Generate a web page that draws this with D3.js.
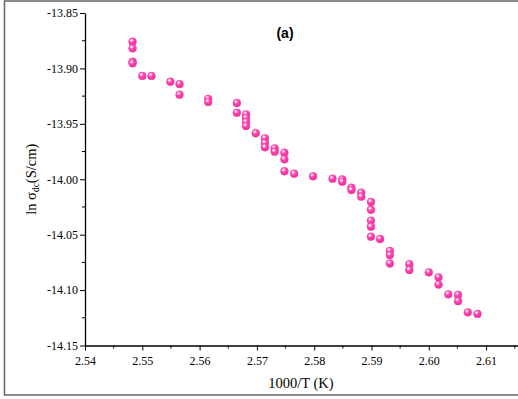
<!DOCTYPE html>
<html>
<head>
<meta charset="utf-8">
<script src="https://cdn.jsdelivr.net/npm/d3@7"></script>
<style>
  html, body { margin: 0; padding: 0; background: #fff; }
  svg { display: block; }
  .serif { font-family: "Times New Roman", "Liberation Serif", "DejaVu Serif", serif; }
</style>
</head>
<body>
<div id="chart"></div>
<script>
// Reciprocal temperature 1000/T (K^-1 scaled)
const invT = [
  2.5483, 2.5483, 2.5483, 2.5483,
  2.5500, 2.5516,
  2.5549, 2.5565, 2.5565,
  2.5615, 2.5615,
  2.5665, 2.5665,
  2.5681, 2.5681, 2.5681, 2.5681,
  2.5698,
  2.5714, 2.5714, 2.5714,
  2.5731, 2.5731,
  2.5748, 2.5748, 2.5748,
  2.5765, 2.5798, 2.5832,
  2.5849, 2.5849,
  2.5865, 2.5865,
  2.5882, 2.5882,
  2.5899, 2.5899, 2.5899, 2.5899, 2.5899,
  2.5915,
  2.5932, 2.5932, 2.5932,
  2.5966, 2.5966,
  2.6000,
  2.6017, 2.6017,
  2.6034,
  2.6051, 2.6051,
  2.6068, 2.6085
];
// ln of dc conductivity (S/cm)
const lnSigma = [
  -13.8759, -13.8819, -13.8939, -13.8954,
  -13.9068, -13.9068,
  -13.9120, -13.9141, -13.9237,
  -13.9276, -13.9303,
  -13.9312, -13.9400,
  -13.9414, -13.9447, -13.9484, -13.9520,
  -13.9585,
  -13.9631, -13.9673, -13.9712,
  -13.9721, -13.9751,
  -13.9760, -13.9820, -13.9928,
  -13.9950, -13.9973, -13.9995,
  -14.0001, -14.0022,
  -14.0076, -14.0097,
  -14.0121, -14.0157,
  -14.0205, -14.0275, -14.0374, -14.0428, -14.0518,
  -14.0539,
  -14.0647, -14.0684, -14.0760,
  -14.0767, -14.0819,
  -14.0840,
  -14.0885, -14.0950,
  -14.1038,
  -14.1043, -14.1100,
  -14.1201, -14.1215
];
const xTicks = [2.54, 2.55, 2.56, 2.57, 2.58, 2.59, 2.60, 2.61];
const yTicks = [-13.85, -13.90, -13.95, -14.00, -14.05, -14.10, -14.15];

const W = 518, H = 399;
const plotLeft = 85, plotTop = 13, plotBottom = 345.5;
const pxPerUnitX = 5730;

const svg = d3.select("#chart").append("svg")
  .attr("width", W).attr("height", H);

// sphere-like marker fill
const defs = svg.append("defs");
const grad = defs.append("radialGradient")
  .attr("id", "ball").attr("cx", "38%").attr("cy", "32%").attr("r", "65%");
grad.append("stop").attr("offset", "0%").attr("stop-color", "#ffffff");
grad.append("stop").attr("offset", "20%").attr("stop-color", "#ffc0e4");
grad.append("stop").attr("offset", "42%").attr("stop-color", "#ff48b2");
grad.append("stop").attr("offset", "100%").attr("stop-color", "#f22e9c");

// outer frame
svg.append("rect")
  .attr("x", 4.5).attr("y", 1).attr("width", 530).attr("height", 394)
  .attr("fill", "none").attr("stroke", "#666").attr("stroke-width", 1.5);

const x = d3.scaleLinear().domain([2.54, 2.62]).range([plotLeft, plotLeft + 0.08 * pxPerUnitX]);
const y = d3.scaleLinear().domain([-14.15, -13.85]).range([plotBottom, plotTop]);

// x axis: major ticks labelled, minor ticks between
const xAxisG = svg.append("g").attr("transform", `translate(0,${plotBottom})`);
xAxisG.call(d3.axisBottom(x).tickValues(xTicks).tickFormat(d3.format(".2f"))
  .tickSize(5).tickSizeOuter(0));
xAxisG.append("g").selectAll("line")
  .data(d3.range(0, 16).map(i => 2.545 + i * 0.01).filter(v => v < 2.62))
  .join("line")
  .attr("x1", d => x(d)).attr("x2", d => x(d))
  .attr("y1", 0).attr("y2", 3)
  .attr("stroke", "#000");

const yAxisG = svg.append("g").attr("transform", `translate(${plotLeft},0)`);
yAxisG.call(d3.axisLeft(y).tickValues(yTicks).tickFormat(d3.format(".2f"))
  .tickSize(5).tickSizeOuter(0));
yAxisG.append("g").selectAll("line")
  .data(d3.range(0, 6).map(i => -13.875 - i * 0.05))
  .join("line")
  .attr("x1", 0).attr("x2", -3)
  .attr("y1", d => y(d)).attr("y2", d => y(d))
  .attr("stroke", "#000");

[xAxisG, yAxisG].forEach(g => {
  g.attr("font-family", null).attr("font-size", null).classed("serif", true);
  g.select(".domain").attr("stroke", "#000").attr("stroke-width", 1.3);
  g.selectAll(".tick line").attr("stroke", "#000").attr("stroke-width", 1);
  g.selectAll("text").attr("class", "serif").style("font-size", "12px").attr("fill", "#000");
});
xAxisG.selectAll(".tick text").attr("dy", "0.95em");
yAxisG.selectAll(".tick text").attr("x", -7).text(d => d3.format(".2f")(d).replace("\u2212", "-"));

// data points
svg.append("g").selectAll("circle")
  .data(invT.map((v, i) => [v, lnSigma[i]]))
  .join("circle")
  .attr("cx", d => x(d[0]))
  .attr("cy", d => y(d[1]))
  .attr("r", 3.9)
  .attr("fill", "url(#ball)")
  .attr("stroke", "#f03c9f")
  .attr("stroke-width", 0.5);

// axis titles
svg.append("text")
  .attr("class", "serif")
  .attr("x", 301).attr("y", 388)
  .attr("text-anchor", "middle")
  .style("font-size", "14.5px")
  .text("1000/T (K)");

const yTitle = svg.append("text")
  .attr("class", "serif")
  .attr("transform", `translate(36,${(plotTop + plotBottom) / 2}) rotate(-90)`)
  .attr("text-anchor", "middle")
  .style("font-size", "14.5px");
yTitle.append("tspan").text("ln \u03c3");
yTitle.append("tspan").style("font-size", "9.5px").attr("dy", 3).text("dc");
yTitle.append("tspan").attr("dy", -3).text("(S/cm)");

// panel label
svg.append("text")
  .attr("x", 285).attr("y", 38)
  .attr("text-anchor", "middle")
  .style("font-family", "Arial, 'Liberation Sans', sans-serif")
  .attr("font-weight", "bold").style("font-size", "14px")
  .text("(a)");
</script>
</body>
</html>
